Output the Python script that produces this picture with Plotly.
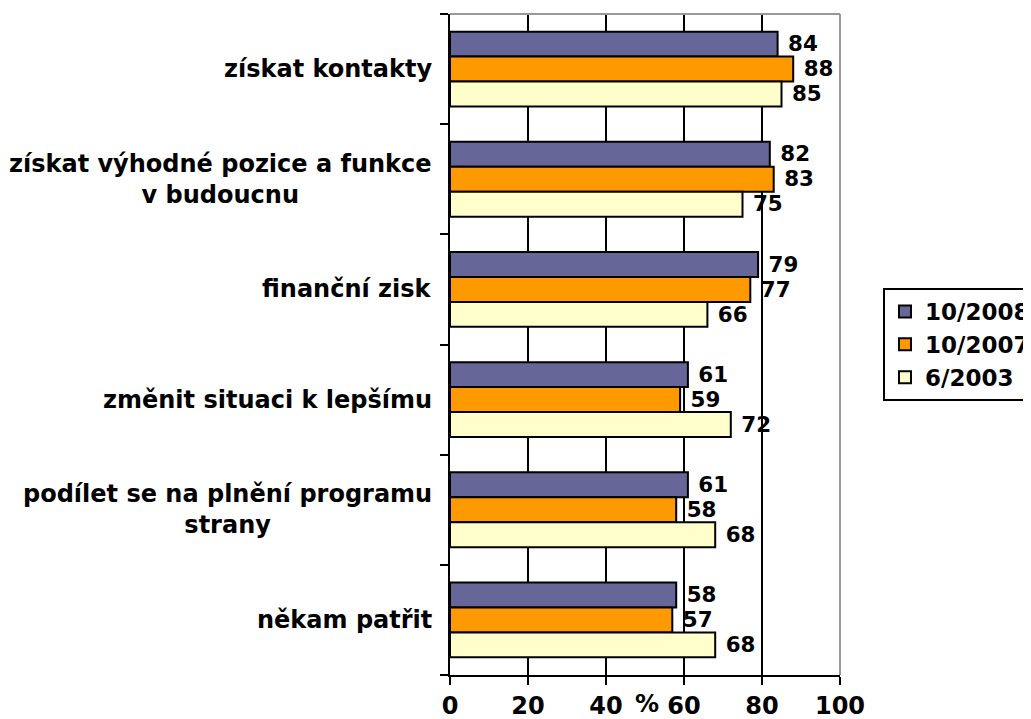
import plotly.graph_objects as go

categories = [
    "získat kontakty",
    "získat výhodné pozice a funkce<br>v budoucnu",
    "finanční zisk",
    "změnit situaci k lepšímu",
    "podílet se na plnění programu<br>strany",
    "někam patřit",
]
series_names = ["10/2008", "10/2007", "6/2003"]
v_2008 = [84, 82, 79, 61, 61, 58]
v_2007 = [88, 83, 77, 59, 58, 57]
v_2003 = [85, 75, 66, 72, 68, 68]
x_ticks = [0, 20, 40, 60, 80, 100]

colors = ["#666699", "#FF9900", "#FFFFCC"]
FONT = "DejaVu Sans"
FS = 24

# page has an 8px body margin; compensate so the figure fits the 1031x719 window
W, H = 1023, 711

fig = go.Figure()
for name, vals, col in zip(series_names, [v_2008, v_2007, v_2003], colors):
    fig.add_trace(go.Bar(
        name=name,
        legendgroup=name,
        y=list(range(len(categories))),
        x=vals,
        orientation="h",
        marker=dict(color=col, line=dict(color="black", width=2)),
        textposition="outside",
        texttemplate=" %{x}",
        textfont=dict(family=FONT, size=FS, color="black", weight="bold"),
        cliponaxis=False,
    ))

annotations = []
for i, c in enumerate(categories):
    annotations.append(dict(
        x=0, xref="paper", y=i, yref="y", text="<b>" + c + "</b>",
        xanchor="right", yanchor="middle", align="center", showarrow=False,
        xshift=-16, font=dict(family=FONT, size=FS, color="black"),
    ))
annotations.append(dict(
    x=50.5, xref="x", y=0, yref="paper", text="<b>%</b>", showarrow=False,
    xanchor="center", yanchor="top", yshift=-13,
    font=dict(family=FONT, size=FS, color="black"),
))

boundaries = [i - 0.5 for i in range(len(categories) + 1)]

fig.update_layout(
    width=W, height=H,
    margin=dict(l=442, r=191, t=6, b=44),
    paper_bgcolor="white", plot_bgcolor="white",
    barmode="group", bargap=0.32, bargroupgap=0,
    font=dict(family=FONT, size=FS, color="black"),
    showlegend=True,
    legend=dict(
        xref="container", yref="container", x=875 / W, y=1 - 280 / H,
        xanchor="left", yanchor="top",
        bordercolor="black", borderwidth=2, bgcolor="white",
        font=dict(family=FONT, size=23, color="black", weight="bold"),
        traceorder="normal", tracegroupgap=6, itemwidth=30,
    ),
    xaxis=dict(
        range=[0, 100], tickvals=x_ticks, ticktext=[str(t) for t in x_ticks],
        showgrid=True, gridcolor="black", gridwidth=2,
        showline=True, linecolor="black", linewidth=2,
        ticks="outside", ticklen=8, tickwidth=2, tickcolor="black",
        ticklabelstandoff=0, zeroline=False, automargin=False,
        tickfont=dict(family=FONT, size=FS, color="black", weight="bold"),
    ),
    yaxis=dict(
        range=[5.5, -0.5], tickmode="array", tickvals=boundaries,
        showticklabels=False, showgrid=False, zeroline=False,
        showline=True, linecolor="black", linewidth=2,
        ticks="outside", ticklen=8, tickwidth=2, tickcolor="black",
        type="linear", automargin=False,
    ),
    annotations=annotations,
    shapes=[
        dict(type="line", xref="paper", yref="paper", x0=0, x1=1, y0=1, y1=1,
             line=dict(color="#999999", width=2)),
        dict(type="line", xref="paper", yref="paper", x0=1, x1=1, y0=0, y1=1,
             line=dict(color="#999999", width=2)),
    ],
)

fig.write_html("out.html")
